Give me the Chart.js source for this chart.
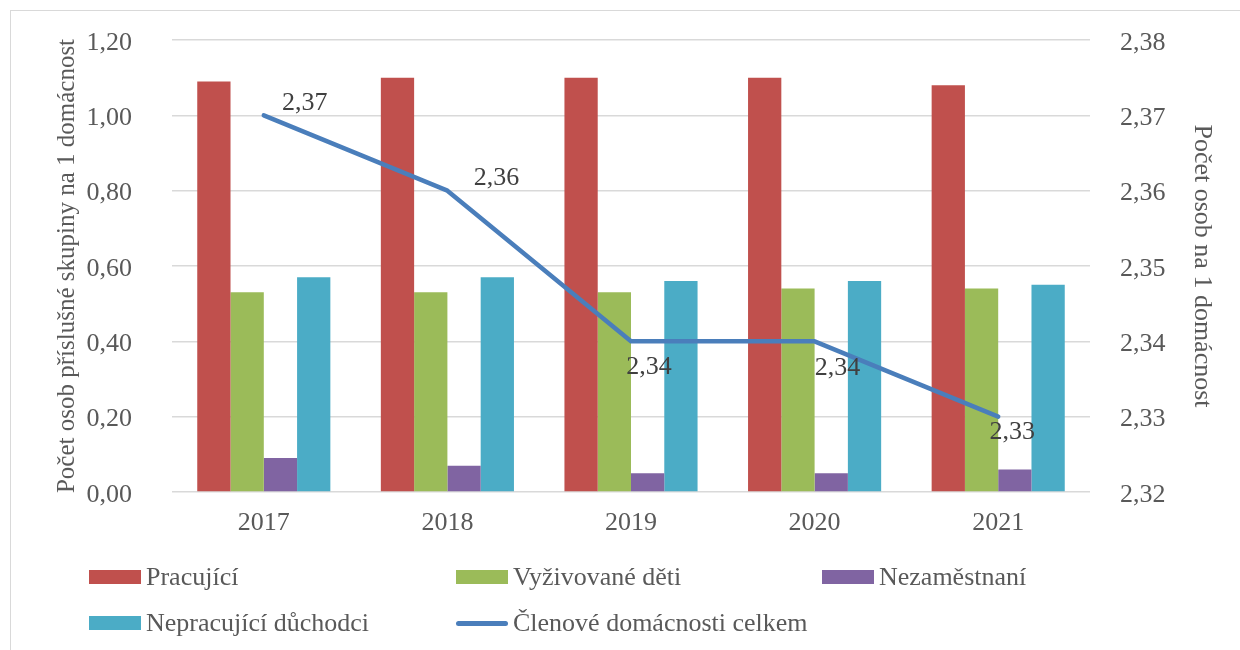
<!DOCTYPE html>
<html><head><meta charset="utf-8">
<script src="https://cdn.jsdelivr.net/npm/chart.js@4.4.1/dist/chart.umd.min.js"></script>
<style>
html,body{margin:0;padding:0;background:#fff;}
#wrap{position:relative;width:1240px;height:650px;overflow:hidden;font-family:"Liberation Serif","Times New Roman",serif;}
#frame{position:absolute;left:10px;top:10px;width:1240px;height:660px;border:1px solid #d9d9d9;box-sizing:border-box;}
#legend{position:absolute;left:0;top:0;width:1240px;height:650px;pointer-events:none;}
.li{position:absolute;display:flex;align-items:center;font-size:26px;color:#595959;white-space:nowrap;}
.sw{width:52px;height:14px;margin-right:5px;}
.ln{width:52px;height:5px;border-radius:3px;margin-right:5px;}
canvas{position:absolute;left:0;top:0;}
</style></head>
<body><div id="wrap"><div id="frame"></div><canvas id="c" width="1240" height="650"></canvas><div id="legend"></div></div>
<script>
const years = ['2017','2018','2019','2020','2021'];
const pracujici = [1.09, 1.10, 1.10, 1.10, 1.08];
const vyzivovaneDeti = [0.53, 0.53, 0.53, 0.54, 0.54];
const nezamestnani = [0.09, 0.07, 0.05, 0.05, 0.06];
const duchodci = [0.57, 0.57, 0.56, 0.56, 0.55];
const clenoveCelkem = [2.37, 2.36, 2.34, 2.34, 2.33];
const leftTicks = {min: 0, max: 1.2, step: 0.2};
const rightTicks = {min: 2.32, max: 2.38, step: 0.01};

const fmt = v => Number(v).toFixed(2).replace('.', ',');
const FONT = 'Liberation Serif';
const GREY = '#595959';
const FS = 26;

const labelOffsets = [[41,-12],[49,-12],[18,26],[23,27],[14,16]];

const lineLabels = {
  id: 'lineLabels',
  afterDatasetsDraw(chart) {
    const ctx = chart.ctx;
    chart.data.datasets.forEach((ds, di) => {
      if (ds.type !== 'line') return;
      const meta = chart.getDatasetMeta(di);
      ctx.save();
      ctx.font = FS + 'px "' + FONT + '"';
      ctx.fillStyle = '#404040';
      ctx.textAlign = 'center';
      ctx.textBaseline = 'middle';
      meta.data.forEach((pt, i) => {
        const o = labelOffsets[i];
        ctx.fillText(fmt(ds.data[i]), pt.x + o[0], pt.y + o[1]);
      });
      ctx.restore();
    });
  }
};

const chart = new Chart(document.getElementById('c'), {
  data: {
    labels: years,
    datasets: [
      {type:'line', label:'Členové domácnosti celkem', data: clenoveCelkem, yAxisID:'y1',
        borderColor:'#4A7EBB', backgroundColor:'#4A7EBB', borderWidth:4.5, pointRadius:0,
        borderCapStyle:'round', borderJoinStyle:'round', tension:0, order:0},
      {type:'bar', label:'Pracující', data: pracujici, backgroundColor:'#C0504D', yAxisID:'y', order:1},
      {type:'bar', label:'Vyživované děti', data: vyzivovaneDeti, backgroundColor:'#9BBB59', yAxisID:'y', order:1},
      {type:'bar', label:'Nezaměstnaní', data: nezamestnani, backgroundColor:'#8064A2', yAxisID:'y', order:1},
      {type:'bar', label:'Nepracující důchodci', data: duchodci, backgroundColor:'#4BACC6', yAxisID:'y', order:1}
    ]
  },
  options: {
    responsive:false, animation:false,
    layout:{padding:{left:50, right:20, top:40, bottom:108}},
    datasets:{bar:{categoryPercentage:0.725, barPercentage:1.0}},
    plugins:{legend:{display:false}, tooltip:{enabled:false}},
    scales:{
      x:{grid:{display:false}, border:{display:false},
        ticks:{color:GREY, font:{family:FONT, size:FS}, padding:8},
        afterFit(s){ s.height = 50; }},
      y:{position:'left', min:leftTicks.min, max:leftTicks.max,
        ticks:{stepSize:leftTicks.step, color:GREY, font:{family:FONT, size:FS}, padding:40, labelOffset:3, callback:v=>fmt(v)},
        grid:{color:'#d9d9d9', lineWidth:1.5, drawTicks:false}, border:{display:false},
        title:{display:true, text:'Počet osob příslušné skupiny na 1 domácnost', color:GREY, font:{family:FONT, size:25}, padding:{top:2, bottom:0}},
        afterFit(s){ s.width = 122; s.paddingTop = 0; s.paddingBottom = 0; }},
      y1:{position:'right', min:rightTicks.min, max:rightTicks.max,
        ticks:{stepSize:rightTicks.step, color:GREY, font:{family:FONT, size:FS}, padding:30, labelOffset:3, callback:v=>fmt(v)},
        grid:{display:false, drawTicks:false}, border:{display:false},
        title:{display:true, text:'Počet osob na 1 domácnost', color:GREY, font:{family:FONT, size:FS}, padding:{top:3, bottom:0}},
        afterFit(s){ s.width = 130; s.paddingTop = 0; s.paddingBottom = 0; }}
    }
  },
  plugins:[lineLabels]
});

// HTML legend built from datasets
const legendOrder = [1,2,3,4,0];
const cols = [89, 456, 822];
const rows = [577, 623];
const lg = document.getElementById('legend');
legendOrder.forEach((di, k) => {
  const ds = chart.data.datasets[di];
  const el = document.createElement('div');
  el.className = 'li';
  el.style.left = cols[k % 3] + 'px';
  el.style.top = (rows[Math.floor(k / 3)] - 15) + 'px';
  el.style.height = '30px';
  const sw = document.createElement('span');
  sw.className = ds.type === 'line' ? 'ln' : 'sw';
  sw.style.background = ds.type === 'line' ? ds.borderColor : ds.backgroundColor;
  const tx = document.createElement('span');
  tx.textContent = ds.label;
  el.appendChild(sw); el.appendChild(tx);
  lg.appendChild(el);
});
</script></body></html>
